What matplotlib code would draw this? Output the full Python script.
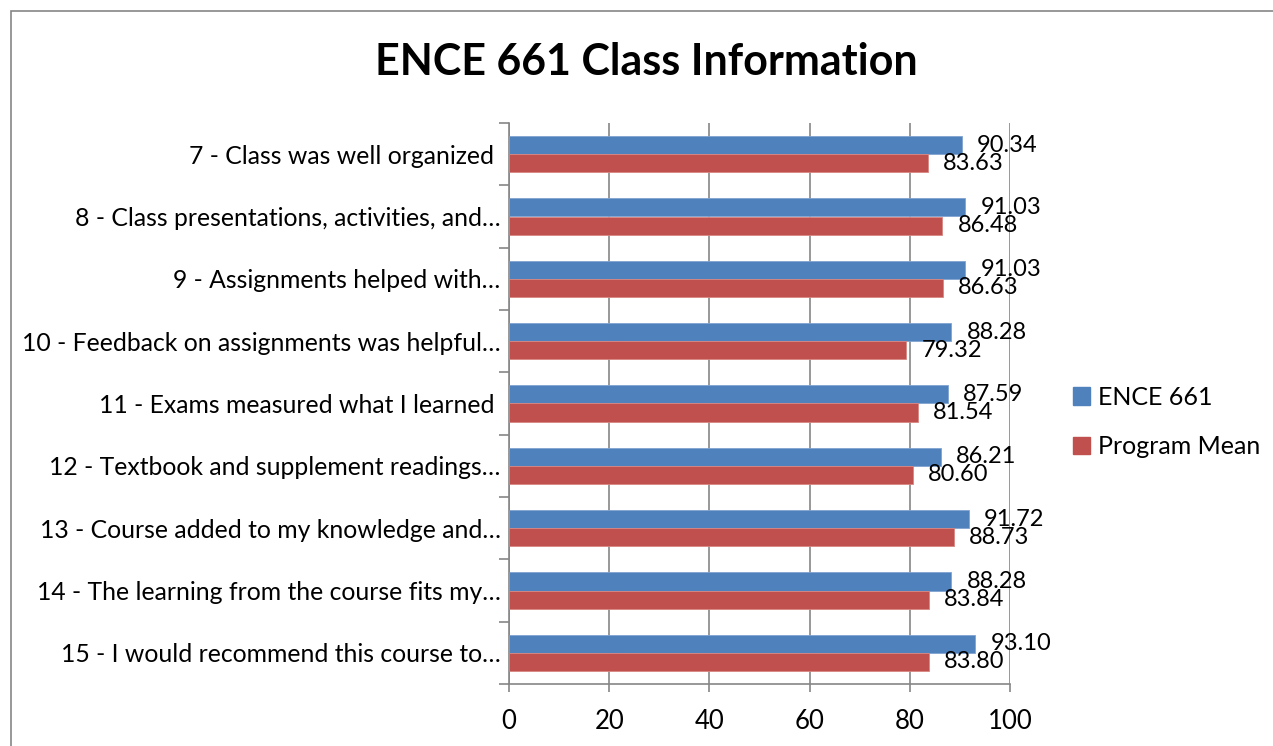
import matplotlib
matplotlib.use('Agg')
import matplotlib.pyplot as plt
import matplotlib.patches as mpatches
import numpy as np

# Chart data
categories = [
    '7 - Class was well organized ',
    '8 - Class presentations, activities, and…',
    '9 - Assignments helped with…',
    '10 - Feedback on assignments was helpful…',
    '11 - Exams measured what I learned ',
    '12 - Textbook and supplement readings…',
    '13 - Course added to my knowledge and…',
    '14 - The learning from the course fits my…',
    '15 - I would recommend this course to…',
]
ence_661 = [90.34, 91.03, 91.03, 88.28, 87.59, 86.21, 91.72, 88.28, 93.10]
program_mean = [83.63, 86.48, 86.63, 79.32, 81.54, 80.60, 88.73, 83.84, 83.80]
series_names = ['ENCE 661', 'Program Mean']
x_ticks = [0, 20, 40, 60, 80, 100]

blue = '#4F81BD'
red = '#C0504D'
gray = '#868686'

plt.rcParams['font.family'] = ['Lato', 'DejaVu Sans']

fig = plt.figure(figsize=(12.73, 7.46), dpi=100)
W, H = 1273, 746

# outer chart border
fig.patches.append(mpatches.Rectangle((10.5 / W, -0.05), 1.2, 1 - 11.5 / H + 0.05,
                                      transform=fig.transFigure, fill=False,
                                      edgecolor=gray, linewidth=1.2))

ax = fig.add_axes([509 / W, (H - 684) / H, 501 / W, 561 / H])

y = np.arange(len(categories))
h = 0.29
b1 = ax.barh(y - h / 2, ence_661, height=h, color=blue, edgecolor='#7FA3D0', linewidth=0.6, zorder=3)
b2 = ax.barh(y + h / 2, program_mean, height=h, color=red, edgecolor='#D98683', linewidth=0.6, zorder=3)

for bars, vals in [(b1, ence_661), (b2, program_mean)]:
    for bar, v in zip(bars, vals):
        ax.annotate(f'{v:.2f}', xy=(v, bar.get_y() + bar.get_height() / 2),
                    xytext=(11, 0), textcoords='offset points',
                    ha='left', va='center', fontsize=17, color='black', zorder=5)

ax.set_xlim(0, 100)
ax.set_ylim(len(categories) - 0.5, -0.5)

# x axis
ax.set_xticks(x_ticks)
ax.set_xticklabels([str(t) for t in x_ticks], fontsize=18.5)
ax.tick_params(axis='x', direction='out', length=6, color=gray, width=1.2, pad=12)
ax.grid(axis='x', color=gray, linewidth=1.2, zorder=0)

# y axis: ticks at category boundaries, labels at centres
ax.set_yticks(np.arange(len(categories) + 1) - 0.5)
ax.set_yticklabels([])
ax.tick_params(axis='y', which='major', direction='out', length=7, color=gray, width=1.2)
ax.set_yticks(y, minor=True)
ax.set_yticklabels(categories, minor=True, fontsize=17.8)
ax.tick_params(axis='y', which='minor', length=0, pad=6)

for s in ['top', 'right']:
    ax.spines[s].set_visible(False)
for s in ['left', 'bottom']:
    ax.spines[s].set_color(gray)
    ax.spines[s].set_linewidth(1.2)

fig.text(646 / W, (H - 62) / H, 'ENCE 661 Class Information', ha='center', va='center',
         fontsize=31, fontweight='bold')

handles = [mpatches.Patch(color=blue, label=series_names[0]),
           mpatches.Patch(color=red, label=series_names[1])]
fig.legend(handles=handles, loc='center left', bbox_to_anchor=(1050 / W, (H - 422) / H),
           frameon=False, fontsize=18, handlelength=0.7, handleheight=0.7,
           handletextpad=0.3, labelspacing=1.05)

fig.savefig('out.png', dpi=100)
